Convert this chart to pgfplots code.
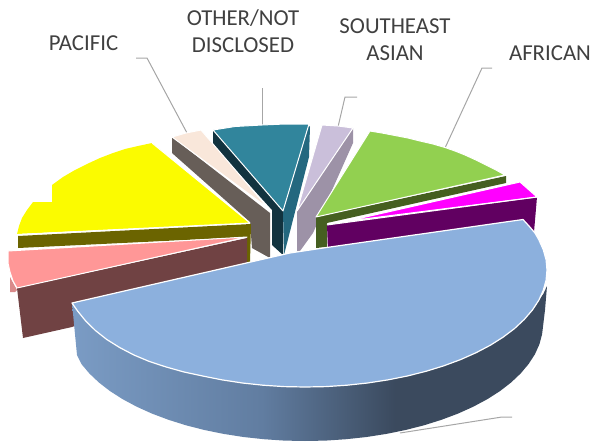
\documentclass[border=0pt]{standalone}
\usepackage{pgfplots}
\pgfplotsset{compat=1.18}
\usepackage{fontspec}
\setmainfont{Carlito}
\definecolor{txt}{HTML}{404040}
\definecolor{lead}{HTML}{A6A6A6}
\definecolor{blue1}{HTML}{8CB0DD}
\definecolor{teal1}{HTML}{31859C}
\definecolor{teal2}{HTML}{24687F}
\definecolor{teal3}{HTML}{12333F}
\definecolor{cream1}{HTML}{F9E7DA}
\definecolor{cream2}{HTML}{675E58}
\definecolor{yel1}{HTML}{FBFB00}
\definecolor{yel2}{HTML}{6B6400}
\definecolor{pink1}{HTML}{FF9797}
\definecolor{pink2}{HTML}{704243}
\definecolor{pink3}{HTML}{D98A8A}
\definecolor{mag1}{HTML}{FF00FF}
\definecolor{mag2}{HTML}{610061}
\definecolor{grn1}{HTML}{92D050}
\definecolor{grn2}{HTML}{455F20}
\definecolor{lil1}{HTML}{CABFDA}
\definecolor{lil2}{HTML}{9D92A7}
\pgfdeclarehorizontalshading{bluesd}{100bp}{rgb(0bp)=(0.48,0.61,0.77); rgb(25bp)=(0.48,0.61,0.77); rgb(45bp)=(0.38,0.49,0.63); rgb(59bp)=(0.23,0.29,0.37); rgb(100bp)=(0.23,0.29,0.37)}
\begin{document}
\begin{tikzpicture}[x=1pt,y=1pt]
\useasboundingbox (0,0) rectangle (590,442);
\begin{axis}[at={(0,0)},anchor=south west,width=590pt,height=442pt,scale only axis,
  xmin=0,xmax=590,ymin=0,ymax=442,y dir=reverse,axis lines=none,clip=false,
  every axis plot/.append style={line join=round}]
% leaders
\addplot[lead,line width=1pt] coordinates {(136,58)(147,58)(187,133)};
\addplot[lead,line width=1pt] coordinates {(262,88)(262,126)};
\addplot[lead,line width=1pt] coordinates {(357,97)(345,97)(338,127)};
\addplot[lead,line width=1pt] coordinates {(492,68)(482,68)(445,148)};
\addplot[lead,line width=1pt] coordinates {(512,417)(502,417)(400,433)};
% lilac
\addplot[fill=lil2,draw=none] coordinates {(353,128)(353,143)(313,233)(300,251)(297,251)(297,211)} --cycle;
\addplot[fill=lil1,draw=white,line width=1pt] coordinates {(322,125)(338,126)(353,128)(297,211)} --cycle;
% teal
\addplot[fill=teal3,draw=none] coordinates {(213,130)(283,211)(283,255)(272,245)(272,210)(213,145)} --cycle;
\addplot[fill=teal2,draw=none] coordinates {(308,125)(310,127)(309,157)(284,255)(283,211)} --cycle;
\addplot[fill=teal1,draw=white,line width=1pt] coordinates {(213,130)(235,126.5)(262,125)(285,124)(309,124)(283,211)} --cycle;
% cream
\addplot[fill=cream2,draw=none] coordinates {(172,137)(270,213)(270,258)(252,248)(250,222)(172,153)} --cycle;
\addplot[fill=cream1,draw=white,line width=1pt] coordinates {(172,137)(186,133)(201,130)(268,208)} --cycle;
% yellow
\addplot[fill=yel2,draw=none] coordinates {(18,236)(251,224)(250,263)(247,263)(247,237)(18,248)} --cycle;
\addplot[fill=yel1,draw=none] coordinates {(152,143)(250,223)(17,234)(19,226)(22,218)(27,210)(33,202)(52,202)(52,185)(63,177)(75,170)(87,164)(100,158)(113,153)(125,149)(138,146)} --cycle;
\addplot[white,line width=1pt] coordinates {(152,143)(250,223)(17,234.5)};
% pink
\addplot[fill=pink3,draw=none] coordinates {(10,277)(17,290)(15,292)(10,292)} --cycle;
\addplot[fill=pink2,draw=none] coordinates {(17,288)(247,238)(247,265)(72,327)(23,338)} --cycle;
\addplot[fill=pink1,draw=white,line width=1pt] coordinates {(8,251)(247,237)(17,288)(13,281)(10,272)(8,263)} --cycle;
% green
\addplot[fill=grn2,draw=none] coordinates {(316,217)(506,176)(506,183)(327,223)(327,247)(316,248)} --cycle;
\addplot[fill=grn1,draw=white,line width=1pt] coordinates {(370,131)(382,133)(395,135.5)(408,138)(420,141)(433,144)(445,147.5)(455,151)(465,155)(476,160)(486,165)(496,170)(505,175)(316,217)} --cycle;
% magenta
\addplot[fill=mag2,draw=none] coordinates {(327,225)(537,197)(534,232)(328,250)} --cycle;
\addplot[fill=mag1,draw=white,line width=1pt] coordinates {(348,221)(520,182)(537,197)} --cycle;
\addplot[white,line width=1pt] coordinates {(327,225)(537,197)};
% blue side
\addplot[shade,shading=bluesd,draw=none] coordinates {(72,303)(77.6,311)(85.7,321)(95.4,330.5)(106.8,339.5)(119.6,347.5)(133.9,355)(149.4,361.5)(166.2,367)(184,372)(202.7,376)(222.2,379.9)(242.4,383)(263,385.2)(283.9,386.6)(305,387)(326.1,386.6)(347,385.2)(367.6,383)(387.8,379.9)(407.3,376)(426,371.3)(443.8,365.8)(460.6,359.6)(476.1,352.7)(490.4,345.2)(503.2,337.1)(514.6,328.5)(524.3,319.4)(532.4,310)(538.8,300.3)(543.3,294)(547,286)(545,310)(542.1,334.2)(539.4,344.3)(534.9,354.3)(528.6,364)(520.7,373.4)(511.1,382.5)(500,391.1)(487.3,399.2)(473.3,406.7)(458,413.6)(441.5,419.8)(424,425.3)(405.6,430)(386.4,433.9)(366.6,437)(346.3,439.2)(325.7,440.6)(305,441)(284.3,440.6)(263.7,439.2)(243.4,437)(223.6,433.9)(204.4,430)(186,425.3)(168.5,419.8)(152,413.6)(136.7,406.7)(122.7,399.2)(110,391.1)(98.9,382.5)(89.3,373.4)(81.4,364)(77,355)} --cycle;
% blue top
\addplot[fill=blue1,draw=white,line width=1.2pt] coordinates {(72,303)(290,253)(330,247)(523,219.5)(529,226)(535,233)(538.8,239.7)(543.3,249.7)(546.1,259.8)(547,270)(546.1,280.2)(543.3,290.3)(538.8,300.3)(532.4,310)(524.3,319.4)(514.6,328.5)(503.2,337.1)(490.4,345.2)(476.1,352.7)(460.6,359.6)(443.8,365.8)(426,371.3)(407.3,376)(387.8,379.9)(367.6,383)(347,385.2)(326.1,386.6)(305,387)(283.9,386.6)(263,385.2)(242.4,383)(222.2,379.9)(202.7,376)(184,372)(166.2,367)(149.4,361.5)(133.9,355)(119.6,347.5)(106.8,339.5)(95.4,330.5)(85.7,321)(77.6,311)} --cycle;
% labels
\node[text=txt,font=\fontsize{22.8}{22.8}\selectfont] at (axis cs:83.5,43) {PACIFIC};
\node[text=txt,font=\fontsize{22.8}{22.8}\selectfont] at (axis cs:243,18) {OTHER/NOT};
\node[text=txt,font=\fontsize{22.8}{22.8}\selectfont] at (axis cs:243,45) {DISCLOSED};
\node[text=txt,font=\fontsize{22.8}{22.8}\selectfont] at (axis cs:395,26) {SOUTHEAST};
\node[text=txt,font=\fontsize{22.8}{22.8}\selectfont] at (axis cs:395,53) {ASIAN};
\node[text=txt,font=\fontsize{22.8}{22.8}\selectfont] at (axis cs:550,53) {AFRICAN};
\end{axis}
\end{tikzpicture}
\end{document}
